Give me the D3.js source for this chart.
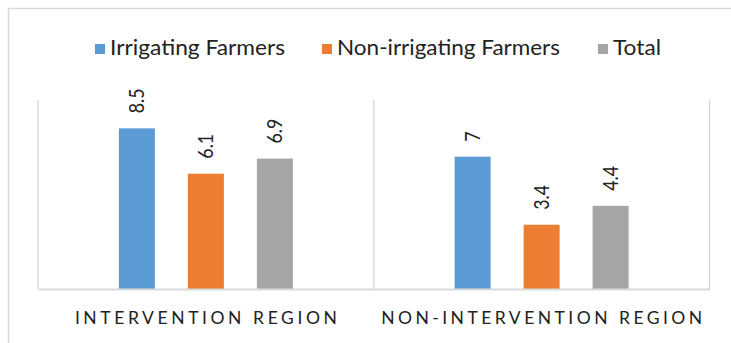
<!DOCTYPE html>
<html>
<head>
<meta charset="utf-8">
<script src="https://cdn.jsdelivr.net/npm/d3@7"></script>
<style>
  html, body { margin: 0; padding: 0; background: #fff; }
  svg { display: block; }
  text { font-family: Lato, "Liberation Sans", Arial, sans-serif; fill: #222; }
</style>
</head>
<body>
<svg id="chart" width="731" height="343"></svg>
<script>
// ---- data ----
const categories = ["INTERVENTION REGION", "NON-INTERVENTION REGION"];
const seriesNames = ["Irrigating Farmers", "Non-irrigating Farmers", "Total"];
const irrigating = [8.5, 7];
const nonIrrigating = [6.1, 3.4];
const total = [6.9, 4.4];
const yTicks = [0, 10];

const seriesValues = [irrigating, nonIrrigating, total];
const colors = ["#5B9BD5", "#ED7D31", "#A5A5A5"];

const svg = d3.select("#chart");

// outer chart border (extends past the right and bottom edges)
svg.append("rect")
  .attr("x", 8.5).attr("y", 8.5)
  .attr("width", 760).attr("height", 360)
  .attr("fill", "none").attr("stroke", "#D9D9D9").attr("stroke-width", 1.5);

const plot = { left: 38, right: 709.5, top: 100, bottom: 289 };

const x0 = d3.scaleBand().domain(categories).range([plot.left, plot.right]).padding(0);
const groupW = 174;
const x1 = d3.scaleBand().domain(seriesNames)
  .range([(x0.bandwidth() - groupW) / 2, (x0.bandwidth() + groupW) / 2])
  .paddingInner(33 / 69).paddingOuter(0);
const y = d3.scaleLinear().domain([yTicks[0], yTicks[1]]).range([plot.bottom, plot.top]);

// vertical category dividers
const dividers = categories.map(c => x0(c)).concat([x0.range()[1]]);
svg.append("g").selectAll("line").data(dividers).join("line")
  .attr("x1", d => d).attr("x2", d => d)
  .attr("y1", y(yTicks[1])).attr("y2", y(yTicks[0]))
  .attr("stroke", "#D9D9D9").attr("stroke-width", 1.5);

// bars
const rows = [];
categories.forEach((c, ci) => {
  seriesNames.forEach((s, si) => {
    rows.push({ cat: c, series: s, value: seriesValues[si][ci], color: colors[si] });
  });
});

svg.append("g").selectAll("rect").data(rows).join("rect")
  .attr("x", d => x0(d.cat) + x1(d.series))
  .attr("y", d => y(d.value))
  .attr("width", x1.bandwidth())
  .attr("height", d => y(0) - y(d.value))
  .attr("fill", d => d.color);

// data labels (rotated)
svg.append("g").selectAll("text").data(rows).join("text")
  .attr("transform", d => {
    const cx = x0(d.cat) + x1(d.series) + x1.bandwidth() / 2;
    return `translate(${cx},${y(d.value) - 15}) rotate(-90) scale(0.85,1)`;
  })
  .attr("dy", "0.36em")
  .attr("text-anchor", "start")
  .style("font-size", "21px")
  .text(d => d.value);

// x axis
const xAxis = d3.axisBottom(x0).tickSize(0).tickPadding(0);
const gx = svg.append("g").attr("transform", `translate(0,${plot.bottom})`).call(xAxis);
gx.select(".domain").attr("stroke", "#D9D9D9").attr("stroke-width", 2);
const axisLens = { "INTERVENTION REGION": 262, "NON-INTERVENTION REGION": 321 };
gx.selectAll(".tick text")
  .attr("y", 35).attr("dy", null)
  .style("font-size", "17.5px")
  .style("font-family", 'Lato, "Liberation Sans", Arial, sans-serif')
  .attr("fill", "#222")
  .attr("textLength", d => axisLens[d])
  .attr("lengthAdjust", "spacing");

// legend
const legendX = [110, 337, 613];
const legendW = [175, 223, 48];
const lg = svg.append("g").selectAll("g").data(seriesNames).join("g");
lg.append("rect")
  .attr("x", (d, i) => legendX[i] - 15)
  .attr("y", 44).attr("width", 10).attr("height", 10)
  .attr("fill", (d, i) => colors[i]);
lg.append("text")
  .attr("x", (d, i) => legendX[i])
  .attr("y", 55)
  .style("font-size", "21px")
  .attr("textLength", (d, i) => legendW[i])
  .attr("lengthAdjust", "spacingAndGlyphs")
  .text(d => d);
</script>
</body>
</html>
